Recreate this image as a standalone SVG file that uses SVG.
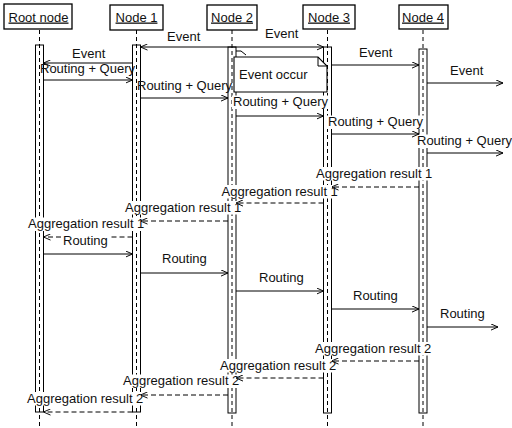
<svg xmlns="http://www.w3.org/2000/svg" width="512" height="428" viewBox="0 0 512 428">
  <style>
    text { font-family: "Liberation Sans", Arial, sans-serif; font-size: 13px; fill: #111; }
    .head { text-anchor: middle; text-decoration: underline; }
    .box { fill: #fff; stroke: #000; stroke-width: 1.3; }
    .life { stroke: #000; stroke-width: 1; stroke-dasharray: 4 3; fill: none; }
    .bar { fill: none; stroke: #000; stroke-width: 1; }
    .msg { stroke: #000; stroke-width: 1; fill: none; marker-end: url(#arrow); }
    .ret { stroke: #000; stroke-width: 1; fill: none; stroke-dasharray: 5 3; marker-end: url(#arrow); }
    .bg { fill: #fff; }
    .note { fill: #fff; stroke: #000; stroke-width: 1.1; }
  </style>
  <defs>
    <marker id="arrow" viewBox="0 0 8 8" refX="8" refY="4" markerWidth="7" markerHeight="7" markerUnits="userSpaceOnUse" orient="auto-start-reverse">
      <path d="M0,0.5 L8,4 L0,7.5" fill="none" stroke="#000" stroke-width="1.1" stroke-dasharray="none"/>
    </marker>
  </defs>

  <!-- lifelines with header boxes and activation bars -->
  <g id="root">
    <line class="life" x1="39.5" y1="30" x2="39.5" y2="428"/>
    <rect class="box" x="4" y="4" width="68" height="25"/>
    <text class="head" x="38.5" y="21.5">Root node</text>
    <rect class="bar" x="35.5" y="45" width="8" height="367"/>
  </g>
  <g id="node1">
    <line class="life" x1="136.5" y1="30" x2="136.5" y2="428"/>
    <rect class="box" x="110" y="5" width="53" height="25"/>
    <text class="head" x="136.5" y="21.5">Node 1</text>
    <rect class="bar" x="132.5" y="45" width="8" height="367"/>
  </g>
  <g id="node2">
    <line class="life" x1="232" y1="30" x2="232" y2="428"/>
    <rect class="box" x="207" y="5" width="50" height="25"/>
    <text class="head" x="232" y="21.5">Node 2</text>
    <rect class="bar" x="228" y="47" width="8" height="366"/>
  </g>
  <g id="node3">
    <line class="life" x1="327.5" y1="30" x2="327.5" y2="428"/>
    <rect class="box" x="303" y="5" width="52" height="24"/>
    <text class="head" x="329" y="21.5">Node 3</text>
    <rect class="bar" x="323.5" y="47" width="8" height="366"/>
  </g>
  <g id="node4">
    <line class="life" x1="423" y1="30" x2="423" y2="428"/>
    <rect class="box" x="399" y="5" width="49" height="24"/>
    <text class="head" x="423" y="21.5">Node 4</text>
    <rect class="bar" x="419" y="49" width="8" height="364"/>
  </g>

  <!-- note attached to Node 2 -->
  <g id="event-occur">
    <path class="note" d="M234,57 H318 L327,66 V92 H234 Z"/>
    <path d="M318,57 V66 H327" fill="none" stroke="#000" stroke-width="1"/>
    <path d="M236,51 L241,51 L246,55" fill="none" stroke="#000" stroke-width="1"/>
    <text x="239" y="78.5">Event occur</text>
  </g>

  <g id="connectors">
    <!-- label backgrounds -->
    <g id="label-bg">
      <rect class="bg" x="417" y="134.5" width="95" height="13.5"/>
      <rect class="bg" x="327" y="115.5" width="97" height="13.5"/>
      <rect class="bg" x="232" y="95.5" width="97" height="13.5"/>
      <rect class="bg" x="315" y="167" width="118" height="13.5"/>
      <rect class="bg" x="220.5" y="185" width="118" height="13.5"/>
      <rect class="bg" x="124" y="201" width="118" height="13.5"/>
      <rect class="bg" x="27" y="217.5" width="118" height="13.5"/>
      <rect class="bg" x="62" y="234" width="47" height="13.5"/>
      <rect class="bg" x="161" y="252.5" width="47" height="13.5"/>
      <rect class="bg" x="258" y="271" width="47" height="13.5"/>
      <rect class="bg" x="352" y="289" width="47" height="13.5"/>
      <rect class="bg" x="439" y="307" width="47" height="13.5"/>
      <rect class="bg" x="314" y="342" width="118" height="13.5"/>
      <rect class="bg" x="219" y="359" width="118" height="13.5"/>
      <rect class="bg" x="122" y="374.5" width="118" height="13.5"/>
      <rect class="bg" x="26" y="392" width="118" height="13.5"/>
    </g>

    <!-- event broadcast -->
    <line class="msg" x1="140.5" y1="47" x2="323.5" y2="47" marker-start="url(#arrow)"/>
    <line class="msg" x1="132.5" y1="63" x2="43.5" y2="63"/>
    <line class="msg" x1="331.5" y1="65" x2="419" y2="65"/>
    <line class="msg" x1="427" y1="83" x2="503" y2="83"/>

    <!-- routing + query -->
    <line class="msg" x1="43.5" y1="80" x2="132.5" y2="80"/>
    <line class="msg" x1="140.5" y1="98" x2="228" y2="98"/>
    <line class="msg" x1="236" y1="116" x2="323.5" y2="116"/>
    <line class="msg" x1="331.5" y1="134" x2="419" y2="134"/>
    <line class="msg" x1="427" y1="153" x2="503" y2="153"/>

    <!-- aggregation result 1 -->
    <line class="ret" x1="419" y1="187" x2="331.5" y2="187"/>
    <line class="ret" x1="323.5" y1="203" x2="236" y2="203"/>
    <line class="ret" x1="228" y1="221" x2="140.5" y2="221"/>
    <line class="ret" x1="132.5" y1="237" x2="110" y2="237" style="marker-end:none"/>
    <line class="ret" x1="61" y1="237" x2="43.5" y2="237"/>

    <!-- routing -->
    <line class="msg" x1="43.5" y1="254" x2="132.5" y2="254"/>
    <line class="msg" x1="140.5" y1="273" x2="228" y2="273"/>
    <line class="msg" x1="236" y1="291" x2="323.5" y2="291"/>
    <line class="msg" x1="331.5" y1="309" x2="419" y2="309"/>
    <line class="msg" x1="427" y1="327" x2="498" y2="327"/>

    <!-- aggregation result 2 -->
    <line class="ret" x1="419" y1="361" x2="331.5" y2="361"/>
    <line class="ret" x1="323.5" y1="378" x2="236" y2="378"/>
    <line class="ret" x1="228" y1="395" x2="140.5" y2="395"/>
    <line class="ret" x1="132.5" y1="412" x2="43.5" y2="412"/>

    <!-- labels -->
    <g id="labels">
      <text x="167" y="41">Event</text>
      <text x="265" y="37.5">Event</text>
      <text x="72" y="57.5">Event</text>
      <text x="359" y="56.5">Event</text>
      <text x="450" y="74.5">Event</text>
      <text x="40" y="72.5">Routing + Query</text>
      <text x="137" y="90">Routing + Query</text>
      <text x="233" y="106">Routing + Query</text>
      <text x="328" y="126">Routing + Query</text>
      <text x="417" y="145">Routing + Query</text>
      <text x="316" y="177.5">Aggregation result 1</text>
      <text x="221.5" y="195.5">Aggregation result 1</text>
      <text x="125" y="211.5">Aggregation result 1</text>
      <text x="28" y="228">Aggregation result 1</text>
      <text x="63" y="244.5">Routing</text>
      <text x="162" y="263">Routing</text>
      <text x="259" y="281.5">Routing</text>
      <text x="353" y="299.5">Routing</text>
      <text x="440" y="317.5">Routing</text>
      <text x="315" y="352.5">Aggregation result 2</text>
      <text x="220" y="369.5">Aggregation result 2</text>
      <text x="123" y="385">Aggregation result 2</text>
      <text x="27" y="402.5">Aggregation result 2</text>
    </g>
  </g>
</svg>
